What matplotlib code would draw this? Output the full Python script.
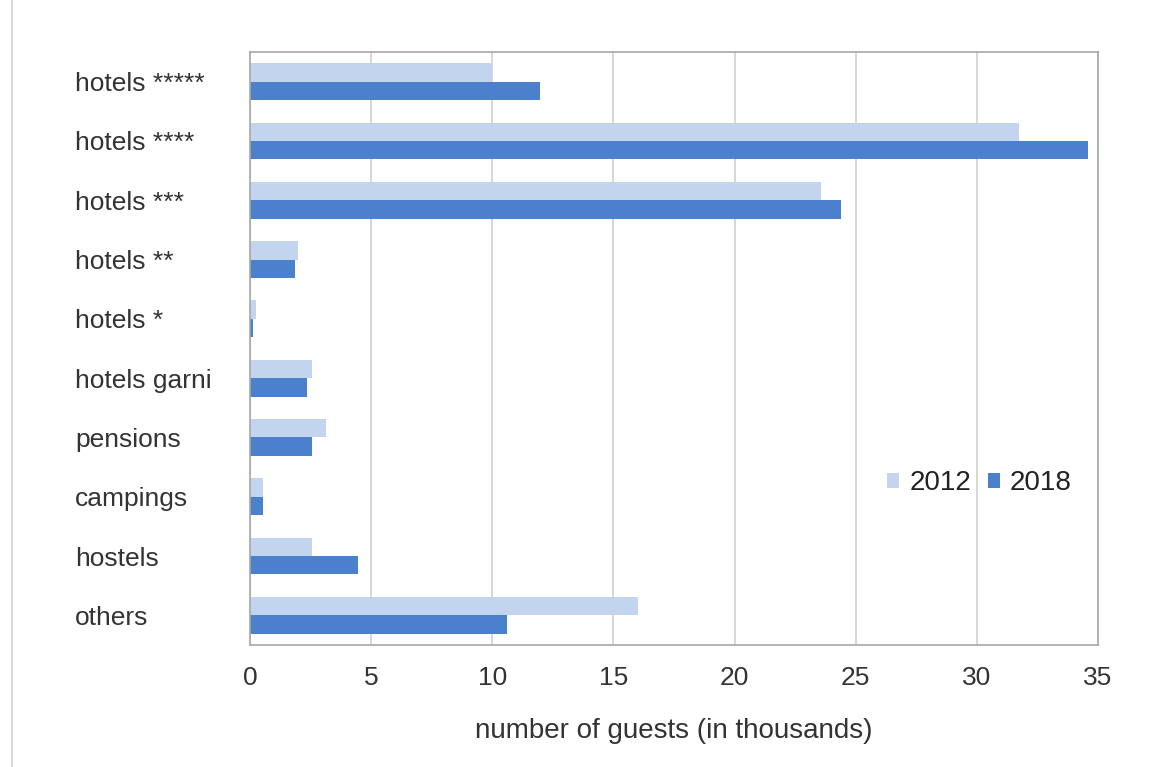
import numpy as np
import matplotlib.pyplot as plt
from matplotlib.lines import Line2D

# Data
categories = ["hotels *****", "hotels ****", "hotels ***", "hotels **", "hotels *",
              "hotels garni", "pensions", "campings", "hostels", "others"]
guests_2012 = [10.0, 31.75, 23.55, 2.0, 0.25, 2.55, 3.15, 0.55, 2.55, 16.0]
guests_2018 = [11.95, 34.6, 24.4, 1.85, 0.13, 2.35, 2.55, 0.55, 4.45, 10.6]
x_ticks = [0, 5, 10, 15, 20, 25, 30, 35]

plt.rcParams['font.family'] = ['Liberation Sans', 'DejaVu Sans']

fig = plt.figure(figsize=(11.57, 7.67), dpi=100)
ax = fig.add_axes([250/1157, 1 - 645/767, 848/1157, 593/767])

y = np.arange(len(categories))
h = 0.31
ax.barh(y - h/2, guests_2012, height=h, color='#c3d5ee', label='2012', zorder=2)
ax.barh(y + h/2, guests_2018, height=h, color='#4a80cc', label='2018', zorder=2)

ax.set_ylim(len(categories) - 0.5, -0.5)
ax.set_xlim(0, 35)
ax.set_xticks(x_ticks)
ax.set_xticklabels([str(t) for t in x_ticks], fontsize=19, color='#333333')
ax.set_yticks(y)
ax.set_yticklabels(categories, fontsize=19, color='#333333', ha='left')
ax.tick_params(axis='y', length=0, pad=126)
ax.tick_params(axis='x', length=0, pad=15)

ax.grid(axis='x', color='#d0d0d0', linewidth=1.2, zorder=0)
for s in ax.spines.values():
    s.set_color('#a8a8a8')
    s.set_linewidth(1.2)

ax.set_xlabel('number of guests (in thousands)', fontsize=20, color='#333333', labelpad=20)

ax.legend(loc='center', bbox_to_anchor=(0.86, 0.273), ncol=2, frameon=False,
          fontsize=20, handlelength=0.45, handleheight=0.45, handletextpad=0.35,
          columnspacing=0.6, labelcolor='#222222')

# left page border
fig.add_artist(Line2D([12/1157, 12/1157], [0, 1], color='#d8d8d8', linewidth=1.5))

fig.savefig('out.png', dpi=100)
